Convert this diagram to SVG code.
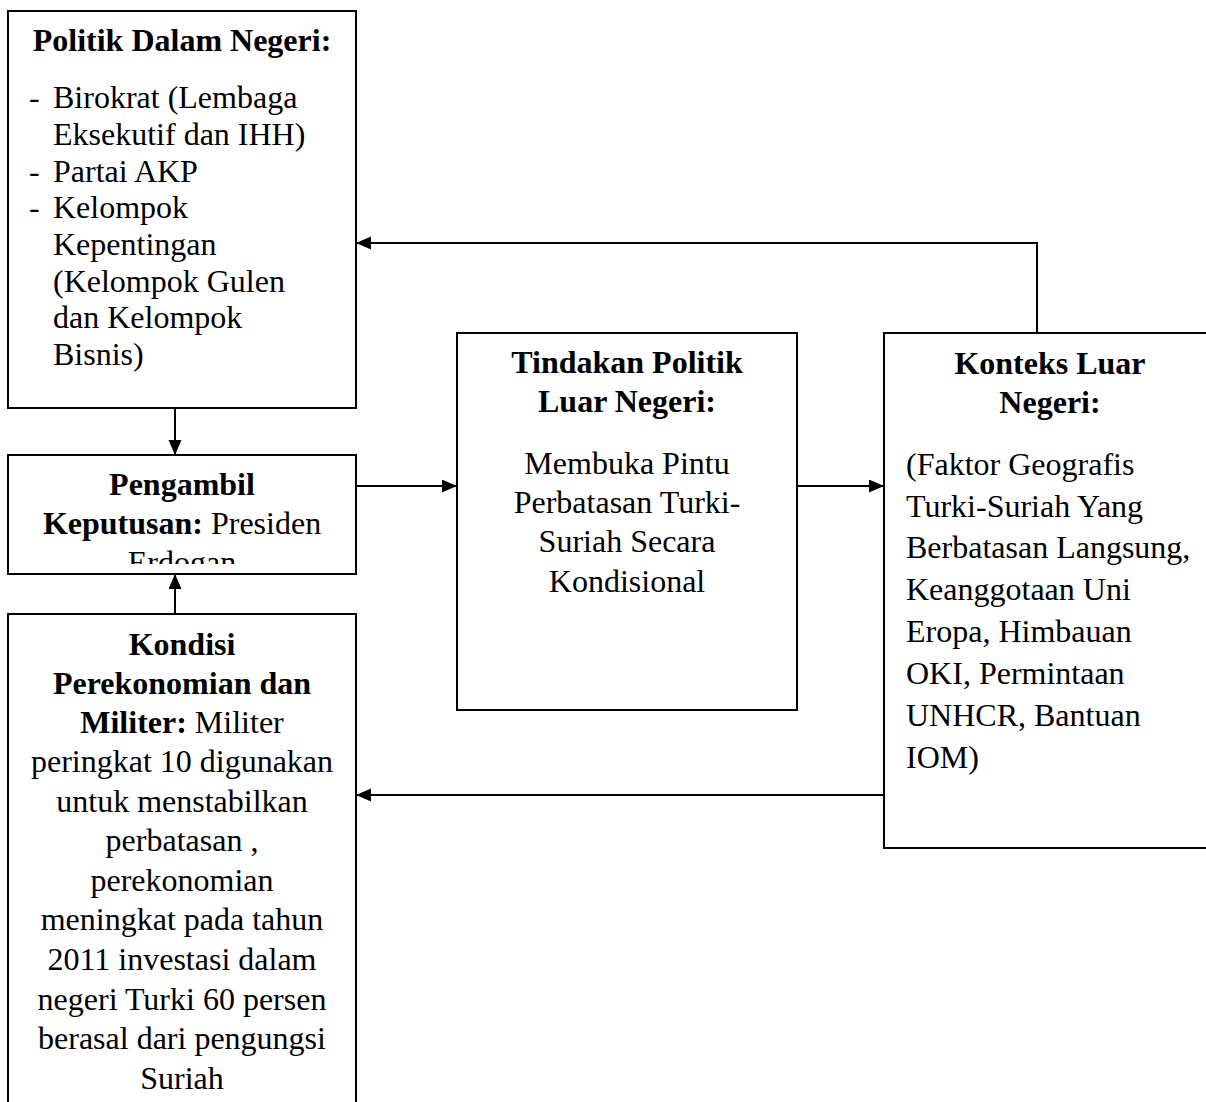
<svg xmlns="http://www.w3.org/2000/svg" width="1206" height="1102" viewBox="0 0 1206 1102">
<style>
.box{fill:#fff;stroke:#000;stroke-width:2}
.t{font-family:"Liberation Serif","Times New Roman",serif;font-size:32px;fill:#000}
.c{text-anchor:middle}
.b{font-weight:bold}
.con{fill:none;stroke:#000;stroke-width:2}
</style>
<defs>
<marker id="ah" markerUnits="userSpaceOnUse" markerWidth="16" markerHeight="14" refX="15" refY="6.5" orient="auto">
<path d="M0,0 L15,6.5 L0,13 z" fill="#000"/>
</marker>
<clipPath id="clipP"><rect x="8" y="455" width="348" height="109"/></clipPath>
</defs>
<rect width="1206" height="1102" fill="#fff"/>

<g id="politik-dalam-negeri">
<rect class="box" x="8" y="11" width="348" height="397"/>
<text class="t b c" x="182" y="51">Politik Dalam Negeri:</text>
<text class="t" x="29" y="108">-</text>
<text class="t" x="53" y="108">Birokrat (Lembaga</text>
<text class="t" x="53" y="145">Eksekutif dan IHH)</text>
<text class="t" x="29" y="182">-</text>
<text class="t" x="53" y="182">Partai AKP</text>
<text class="t" x="29" y="218">-</text>
<text class="t" x="53" y="218">Kelompok</text>
<text class="t" x="53" y="255">Kepentingan</text>
<text class="t" x="53" y="292">(Kelompok Gulen</text>
<text class="t" x="53" y="328">dan Kelompok</text>
<text class="t" x="53" y="365">Bisnis)</text>
</g>

<g id="pengambil-keputusan">
<rect class="box" x="8" y="455" width="348" height="119"/>
<g clip-path="url(#clipP)">
<text class="t b c" x="182" y="495">Pengambil</text>
<text class="t c" x="182" y="534"><tspan class="b">Keputusan:</tspan> Presiden</text>
<text class="t c" x="182" y="573">Erdogan</text>
</g>
</g>

<g id="kondisi">
<rect class="box" x="8" y="614" width="348" height="500"/>
<text class="t b c" x="182" y="655">Kondisi</text>
<text class="t b c" x="182" y="694">Perekonomian dan</text>
<text class="t c" x="182" y="733"><tspan class="b">Militer:</tspan> Militer</text>
<text class="t c" x="182" y="772">peringkat 10 digunakan</text>
<text class="t c" x="182" y="812">untuk menstabilkan</text>
<text class="t c" x="182" y="851">perbatasan ,</text>
<text class="t c" x="182" y="891">perekonomian</text>
<text class="t c" x="182" y="930">meningkat pada tahun</text>
<text class="t c" x="182" y="970">2011 investasi dalam</text>
<text class="t c" x="182" y="1010">negeri Turki 60 persen</text>
<text class="t c" x="182" y="1049">berasal dari pengungsi</text>
<text class="t c" x="182" y="1089">Suriah</text>
</g>

<g id="tindakan">
<rect class="box" x="457" y="333" width="340" height="377"/>
<text class="t b c" x="627" y="373">Tindakan Politik</text>
<text class="t b c" x="627" y="412">Luar Negeri:</text>
<text class="t c" x="627" y="474">Membuka Pintu</text>
<text class="t c" x="627" y="513">Perbatasan Turki-</text>
<text class="t c" x="627" y="552">Suriah Secara</text>
<text class="t c" x="627" y="592">Kondisional</text>
</g>

<g id="konteks">
<rect class="box" x="884" y="333" width="340" height="515"/>
<text class="t b c" x="1050" y="374">Konteks Luar</text>
<text class="t b c" x="1050" y="413">Negeri:</text>
<text class="t" x="906" y="475">(Faktor Geografis</text>
<text class="t" x="906" y="517">Turki-Suriah Yang</text>
<text class="t" x="906" y="558">Berbatasan Langsung,</text>
<text class="t" x="906" y="600">Keanggotaan Uni</text>
<text class="t" x="906" y="642">Eropa, Himbauan</text>
<text class="t" x="906" y="684">OKI, Permintaan</text>
<text class="t" x="906" y="726">UNHCR, Bantuan</text>
<text class="t" x="906" y="768">IOM)</text>
</g>

<g id="connectors">
<line class="con" x1="175" y1="408" x2="175" y2="455" marker-end="url(#ah)"/>
<line class="con" x1="175" y1="614" x2="175" y2="574" marker-end="url(#ah)"/>
<line class="con" x1="356" y1="486" x2="457" y2="486" marker-end="url(#ah)"/>
<line class="con" x1="797" y1="486" x2="884" y2="486" marker-end="url(#ah)"/>
<polyline class="con" points="1037,333 1037,243 356,243" marker-end="url(#ah)"/>
<line class="con" x1="884" y1="795" x2="356" y2="795" marker-end="url(#ah)"/>
</g>
</svg>
